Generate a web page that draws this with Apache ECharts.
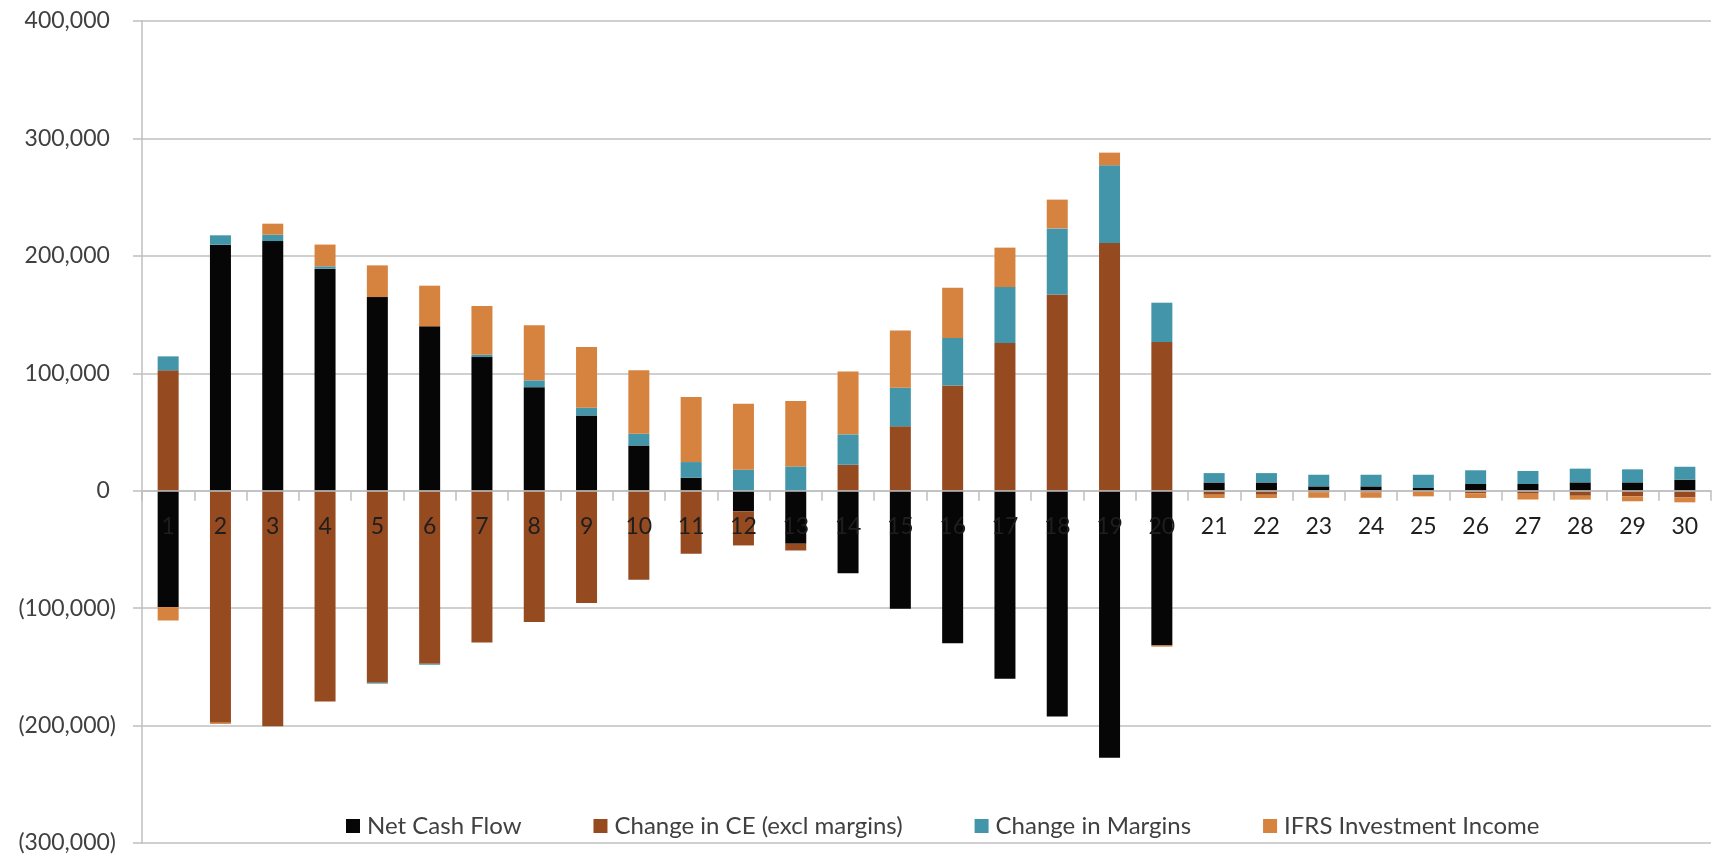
<!DOCTYPE html>
<html>
<head>
<meta charset="utf-8">
<script src="https://cdn.jsdelivr.net/npm/echarts@6/dist/echarts.min.js"></script>
<style>
html,body{margin:0;padding:0;background:#fff;}
#chart{width:1714px;height:857px;}
</style>
</head>
<body>
<div id="chart"></div>
<script>
const categories = ['1','2','3','4','5','6','7','8','9','10','11','12','13','14','15','16','17','18','19','20','21','22','23','24','25','26','27','28','29','30'];
const netCashFlow = [-99100, 209500, 212600, 189100, 164900, 140000, 113800, 88200, 64100, 38600, 11100, -17600, -45100, -70200, -100500, -129800, -160100, -192200, -227400, -131800, 7000, 7000, 3700, 3700, 2300, 5700, 5700, 7100, 7100, 9400];
const changeCE = [102500, -197600, -200500, -179500, -163500, -147400, -129200, -111900, -95700, -75800, -53700, -29000, -5800, 22100, 54800, 89700, 125700, 167000, 210900, 126600, -3400, -3400, -1500, -1500, -1000, -2300, -2500, -4300, -4800, -5700];
const changeMargins = [11900, 8000, 5400, 2000, -800, -800, 2000, 5800, 6600, 9900, 13300, 17900, 20700, 25900, 32900, 40300, 47700, 56400, 66200, 33500, 8000, 8000, 9900, 9900, 11300, 11700, 11100, 11700, 11100, 11000];
const ifrsIncome = [-11400, -1000, 9400, 18500, 27000, 34600, 41400, 46800, 51600, 54000, 55300, 56200, 55600, 53600, 48800, 42900, 33600, 24500, 10800, -1000, -2800, -2800, -4500, -4500, -3800, -3900, -5000, -3300, -4200, -4200];
const seriesNames = ['Net Cash Flow', 'Change in CE (excl margins)', 'Change in Margins', 'IFRS Investment Income'];
const seriesColors = ['#060606', '#954A20', '#4395AA', '#D68340'];
const yMin = -300000, yMax = 400000, yStep = 100000;

const FONT = 'Lato';
const H = 857, GRID_TOP = 21, GRID_BOTTOM = 14;
const plotH = H - GRID_TOP - GRID_BOTTOM;
// distance from grid bottom edge up to the zero line
const zeroOffset = plotH * (0 - yMin) / (yMax - yMin);

const chart = echarts.init(document.getElementById('chart'), null, {renderer: 'canvas'});

function fmt(v) {
  const s = Math.abs(v).toString().replace(/\B(?=(\d{3})+(?!\d))/g, ',');
  return v < 0 ? '(' + s + ')' : s + '{h|)}';
}

const datas = [netCashFlow, changeCE, changeMargins, ifrsIncome];
const series = datas.map((d, i) => ({
  name: seriesNames[i],
  type: 'bar',
  stack: 'total',
  data: d,
  barWidth: 21,
  z: 2,
  itemStyle: {color: seriesColors[i]},
  emphasis: {disabled: true}
}));

chart.setOption({
  animation: false,
  backgroundColor: '#ffffff',
  textStyle: {fontFamily: FONT},
  grid: {left: 142, right: 3, top: GRID_TOP, bottom: GRID_BOTTOM},
  legend: {
    data: seriesNames,
    left: 341,
    top: 809,
    itemWidth: 14,
    itemHeight: 14,
    itemGap: 72,
    icon: 'rect',
    textStyle: {fontFamily: FONT, fontSize: 24, color: '#404040', padding: [0, 0, 0, 2]}
  },
  xAxis: {
    type: 'category',
    data: categories,
    position: 'bottom',
    offset: -zeroOffset,
    z: 10,
    axisLine: {onZero: false, lineStyle: {color: '#BFBFBF', width: 1.5}},
    axisTick: {show: true, length: 10, lineStyle: {color: '#BFBFBF', width: 1.5}},
    axisLabel: {interval: 0, margin: 24, fontFamily: FONT, fontSize: 23, color: '#1e1e1e'},
    splitLine: {show: false}
  },
  yAxis: {
    type: 'value',
    min: yMin,
    max: yMax,
    interval: yStep,
    axisLine: {show: true, lineStyle: {color: '#BFBFBF', width: 1.5}},
    axisTick: {show: true, length: 9, lineStyle: {color: '#BFBFBF', width: 1.5}},
    axisLabel: {
      margin: 26,
      fontFamily: FONT,
      fontSize: 23,
      color: '#404040',
      formatter: fmt,
      rich: {h: {color: 'rgba(0,0,0,0)', fontFamily: FONT, fontSize: 23}}
    },
    splitLine: {show: true, lineStyle: {color: '#D0D0D0', width: 2}}
  },
  series: series
});
</script>
</body>
</html>
